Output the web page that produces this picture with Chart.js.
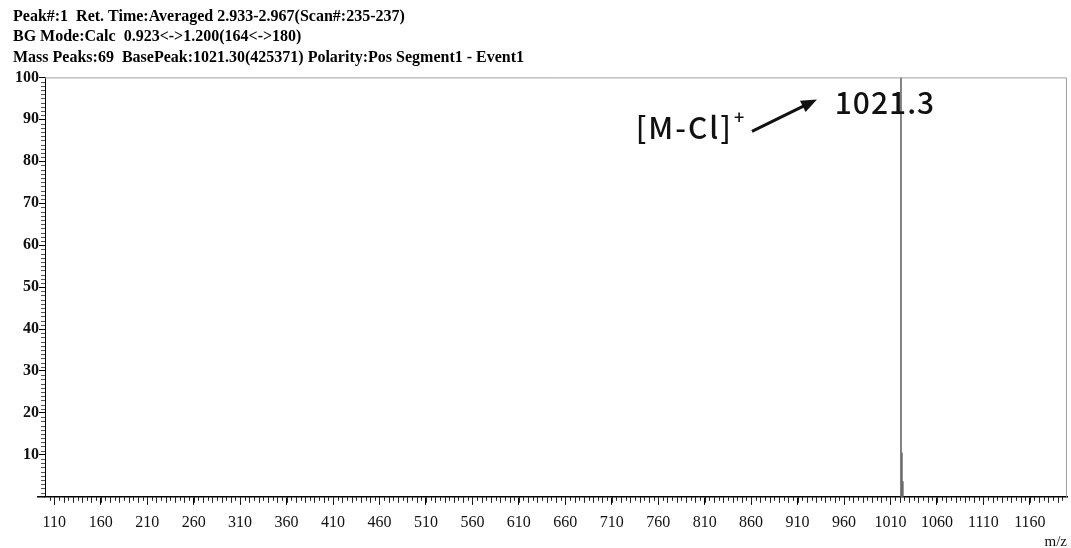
<!DOCTYPE html>
<html>
<head>
<meta charset="utf-8">
<script src="https://cdn.jsdelivr.net/npm/chart.js@4/dist/chart.umd.min.js"></script>
<style>
  body { margin: 0; background: #fff; }
</style>
</head>
<body>
<canvas id="ms" width="1071" height="548"></canvas>
<script>
// header text of the spectrum
const headerLines = [
  'Peak#:1  Ret. Time:Averaged 2.933-2.967(Scan#:235-237)',
  'BG Mode:Calc  0.923<->1.200(164<->180)',
  'Mass Peaks:69  BasePeak:1021.30(425371) Polarity:Pos Segment1 - Event1'
];

// peaks (m/z, relative intensity %)
const peakMz = [1021.3, 1022.3, 1023.3];
const peakIntensity = [100, 10.5, 3.6];

// axis ticks
const xTickValues = [110, 160, 210, 260, 310, 360, 410, 460, 510, 560, 610, 660, 710, 760, 810, 860, 910, 960, 1010, 1060, 1110, 1160];
const yTickValues = [10, 20, 30, 40, 50, 60, 70, 80, 90, 100];
const xRange = [100, 1200];

// annotation
const baseLabel = '1021.3';
const ionLabel = '[M-Cl]';

const serif = '"Liberation Serif", "Times New Roman", serif';
const sans = '"Noto Sans CJK SC", "Noto Sans", sans-serif';

// minor ticks, border box and the arrow annotation
const spectrumDecor = {
  id: 'spectrumDecor',
  afterDraw(chart) {
    const { ctx, chartArea: a, scales: { x, y } } = chart;
    ctx.save();

    // top / right frame
    ctx.strokeStyle = '#a0a0a0';
    ctx.lineWidth = 1;
    ctx.beginPath();
    ctx.moveTo(a.left, a.top + 0.5);
    ctx.lineTo(a.right - 0.5, a.top + 0.5);
    ctx.lineTo(a.right - 0.5, a.bottom);
    ctx.stroke();

    // x axis line runs a bit past the y axis
    ctx.strokeStyle = '#000';
    ctx.lineWidth = 1.5;
    ctx.beginPath();
    ctx.moveTo(a.left - 8, a.bottom);
    ctx.lineTo(a.left, a.bottom);
    ctx.stroke();

    // minor x ticks
    ctx.lineWidth = 1;
    ctx.strokeStyle = '#222';
    for (let v = xRange[0] + 5; v < xRange[1]; v += 5) {
      const px = Math.round(x.getPixelForValue(v)) + 0.5;
      const len = (v % 10 === 0) ? 6 : 4;
      ctx.beginPath();
      ctx.moveTo(px, a.bottom);
      ctx.lineTo(px, a.bottom + len);
      ctx.stroke();
    }
    // minor y ticks
    ctx.strokeStyle = '#555';
    for (let v = 1; v < 100; v++) {
      if (v % 10 === 0) continue;
      const py = Math.round(y.getPixelForValue(v)) + 0.5;
      ctx.beginPath();
      ctx.moveTo(a.left - 4, py);
      ctx.lineTo(a.left, py);
      ctx.stroke();
    }

    // labels
    const px = x.getPixelForValue(peakMz[0]);
    const py = y.getPixelForValue(peakIntensity[0]);
    ctx.fillStyle = '#111';
    ctx.textBaseline = 'middle';
    ctx.textAlign = 'center';
    ctx.font = '500 30px ' + sans;
    ctx.letterSpacing = '1px';
    ctx.fillText(baseLabel, px - 16, py + 25);

    ctx.textAlign = 'right';
    ctx.letterSpacing = '2px';
    ctx.fillText(ionLabel, px - 168, py + 50);
    ctx.letterSpacing = '0px';
    ctx.font = '500 18px ' + sans;
    ctx.textAlign = 'left';
    ctx.fillText('+', px - 167, py + 40);

    // arrow
    const x0 = px - 149, y0 = py + 54, x1 = px - 84, y1 = py + 22;
    const ang = Math.atan2(y1 - y0, x1 - x0);
    ctx.strokeStyle = '#111';
    ctx.lineWidth = 3;
    ctx.beginPath();
    ctx.moveTo(x0, y0);
    ctx.lineTo(x1 - 10 * Math.cos(ang), y1 - 10 * Math.sin(ang));
    ctx.stroke();
    ctx.beginPath();
    ctx.moveTo(x1, y1);
    ctx.lineTo(x1 - 17 * Math.cos(ang - 0.38), y1 - 17 * Math.sin(ang - 0.38));
    ctx.lineTo(x1 - 17 * Math.cos(ang + 0.38), y1 - 17 * Math.sin(ang + 0.38));
    ctx.closePath();
    ctx.fill();

    ctx.restore();
  }
};

new Chart(document.getElementById('ms'), {
  type: 'bar',
  data: {
    datasets: [{
      data: peakMz.map((m, i) => ({ x: m, y: peakIntensity[i] })),
      backgroundColor: '#6a6a6a',
      barThickness: 1,
      grouped: false
    }]
  },
  options: {
    responsive: false,
    animation: false,
    layout: { padding: { left: 13, right: 4, top: 0, bottom: -2 } },
    plugins: {
      legend: { display: false },
      tooltip: { enabled: false },
      title: {
        display: true,
        text: headerLines,
        align: 'start',
        color: '#000',
        font: { family: serif, size: 16, weight: 'bold', lineHeight: 1.3 },
        padding: { top: 6, bottom: 9 }
      }
    },
    scales: {
      x: {
        type: 'linear',
        offset: false,
        min: xRange[0],
        max: xRange[1],
        afterBuildTicks: (s) => { s.ticks = xTickValues.map(v => ({ value: v })); },
        grid: { drawOnChartArea: false, offset: false, tickLength: 8, color: '#000' },
        border: { color: '#000', width: 1.5 },
        ticks: { color: '#111', font: { family: serif, size: 16 }, padding: 8, maxRotation: 0, autoSkip: false, callback: (v) => String(v) },
        title: { display: true, text: 'm/z', align: 'end', color: '#111', font: { family: serif, size: 15, lineHeight: 1 }, padding: { top: -5, bottom: 0 } }
      },
      y: {
        min: 0,
        max: 100,
        afterBuildTicks: (s) => { s.ticks = yTickValues.map(v => ({ value: v })); },
        afterFit: (s) => { s.width = 32; },
        grid: { drawOnChartArea: false, tickLength: 6, color: '#000' },
        border: { color: '#000', width: 1 },
        ticks: { color: '#111', font: { family: serif, size: 16, weight: 'bold' }, padding: 0 }
      }
    }
  },
  plugins: [spectrumDecor]
});
</script>
</body>
</html>
